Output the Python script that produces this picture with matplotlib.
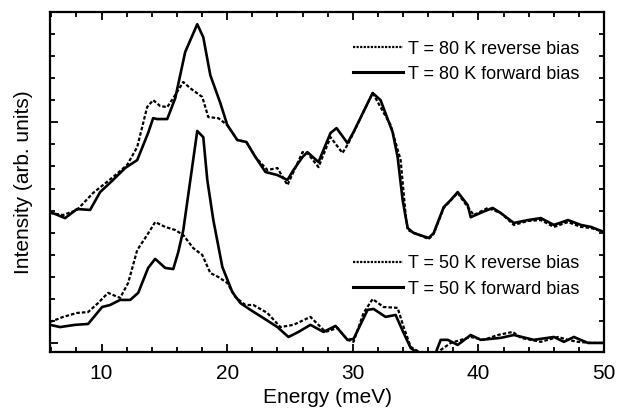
import matplotlib
matplotlib.use("Agg")
import matplotlib.pyplot as plt
from matplotlib.lines import Line2D
from matplotlib.ticker import MultipleLocator, FixedLocator

plt.rcParams["font.family"] = ["Liberation Sans", "DejaVu Sans"]

# Energy (meV) / intensity (arb. units, offset per temperature)
e_80_fwd = [5.9, 7.10, 8.05, 9.09, 9.89, 10.92, 11.88, 12.84, 13.71, 14.11, 14.43, 15.23,
            15.87, 16.66, 17.62, 18.10, 18.66, 19.46, 20.01, 20.81, 21.53, 22.25, 23.05,
            24.00, 24.80, 25.28, 26.00, 26.39, 27.27, 28.23, 28.71, 29.58, 30.06, 31.58,
            32.21, 33.17, 33.57, 33.97, 34.21, 34.37, 34.85, 36.04, 36.44, 37.24, 37.80,
            38.35, 39.15, 39.39, 40.35, 41.14, 41.78, 42.82, 43.94, 44.97, 46.01, 47.13,
            48.16, 48.96, 50.0]
i_80_fwd = [5.94, 5.66, 6.07, 6.03, 6.84, 7.39, 7.93, 8.29, 9.52, 10.19, 10.15, 10.15,
            11.10, 13.19, 14.45, 13.86, 12.14, 10.87, 9.88, 9.20, 9.11, 8.43, 7.75,
            7.61, 7.39, 7.84, 8.43, 8.65, 8.20, 9.52, 9.74, 9.06, 9.56, 11.33,
            11.01, 9.56, 8.43, 6.48, 5.71, 5.21, 4.98, 4.76, 4.98, 6.16, 6.48,
            6.84, 6.25, 5.70, 5.94, 6.12, 5.89, 5.44, 5.57, 5.66, 5.35, 5.57,
            5.35, 5.26, 5.03]

e_80_rev = [5.9, 6.94, 8.05, 9.33, 10.92, 12.04, 12.84, 13.63, 14.11, 14.67, 15.23, 15.71,
            16.51, 17.06, 18.02, 18.50, 19.30, 20.01, 20.81, 21.53, 22.25, 23.20, 24.00,
            24.80, 25.28, 26.00, 26.39, 27.27, 28.23, 29.18, 29.66, 31.58, 33.01, 33.81,
            34.21, 34.37, 36.04, 36.44, 37.24, 38.35, 39.15, 39.63, 40.75, 41.78, 42.82,
            43.94, 44.97, 46.01, 47.13, 48.16, 48.96, 50.0]
i_80_rev = [5.89, 5.80, 6.03, 6.80, 7.52, 8.07, 8.88, 10.69, 11.01, 10.74, 10.69, 11.10,
            11.83, 11.55, 11.15, 10.24, 10.19, 9.88, 9.20, 9.11, 8.43, 7.84, 7.93,
            7.16, 7.75, 8.65, 8.61, 7.97, 9.33, 8.61, 9.06, 11.33, 9.88, 8.29,
            5.80, 5.12, 4.71, 4.94, 6.12, 6.80, 6.16, 5.80, 6.12, 5.89, 5.35,
            5.53, 5.57, 5.26, 5.48, 5.26, 5.21, 5.03]

e_50_fwd = [5.9, 6.70, 7.89, 8.93, 10.05, 10.68, 11.48, 12.28, 12.92, 13.71, 14.27, 15.07,
            15.71, 16.11, 16.51, 17.62, 18.10, 18.42, 18.90, 19.62, 20.41, 21.05, 21.85,
            22.88, 24.00, 24.88, 25.68, 26.63, 27.67, 28.63, 29.58, 30.06, 31.18, 31.66,
            32.61, 33.41, 34.05, 34.61, 35.17, 35.8, 36.3, 36.60, 37.00, 37.56, 38.35,
            39.39, 40.19, 41.78, 42.82, 44.41, 46.01, 46.81, 47.60, 48.72, 50.0]
i_50_fwd = [0.82, 0.72, 0.82, 0.86, 1.63, 1.72, 1.95, 1.95, 2.27, 3.40, 3.81, 3.40,
            3.35, 4.12, 5.12, 9.61, 9.33, 7.39, 5.57, 3.44, 2.31, 1.81, 1.50,
            1.13, 0.72, 0.27, 0.50, 0.82, 0.50, 0.77, 0.14, 0.18, 1.50, 1.54,
            1.18, 1.27, 0.45, -0.23, -0.45, -0.8, -0.8, -0.45, 0.14, 0.14, -0.09,
            0.36, 0.14, 0.23, 0.36, 0.14, 0.27, 0.05, 0.27, 0.0, 0.0]

e_50_rev = [5.9, 6.94, 8.05, 8.93, 9.73, 10.52, 11.48, 12.12, 12.84, 13.63, 14.27, 15.07,
            15.87, 16.51, 17.30, 18.02, 18.66, 19.30, 20.01, 20.65, 21.45, 22.09, 23.20,
            24.24, 25.28, 26.63, 27.83, 28.79, 29.58, 30.06, 30.86, 31.58, 32.45, 33.57,
            34.05, 34.61, 35.41, 36.2, 37.00, 37.80, 39.39, 40.43, 41.54, 42.74, 43.38,
            44.97, 46.33, 47.13, 47.92, 48.96, 50.0]
i_50_rev = [0.95, 1.18, 1.36, 1.40, 1.81, 2.27, 2.04, 2.72, 4.21, 4.89, 5.48, 5.26,
            5.12, 4.89, 4.30, 3.99, 3.17, 2.99, 2.72, 2.08, 1.72, 1.72, 1.36,
            0.72, 0.82, 1.18, 0.50, 0.68, 0.14, 0.05, 1.36, 1.99, 1.63, 1.59,
            0.72, -0.18, -0.45, -0.8, -0.32, 0.0, 0.27, 0.14, 0.36, 0.50, 0.23,
            0.05, 0.27, 0.14, 0.05, 0.0, 0.0]

labels_80 = ["T = 80 K reverse bias", "T = 80 K forward bias"]
labels_50 = ["T = 50 K reverse bias", "T = 50 K forward bias"]

DASH = (0, (1.6, 0.9))
LW = 1.6

fig = plt.figure(figsize=(6.19, 4.11), dpi=100)
ax = fig.add_axes([0.0808, 0.1436, 0.895, 0.827])

ax.plot(e_80_rev, i_80_rev, color="black", lw=LW, ls=DASH)
ax.plot(e_80_fwd, i_80_fwd, color="black", lw=LW + 0.3)
ax.plot(e_50_rev, i_50_rev, color="black", lw=LW, ls=DASH)
ax.plot(e_50_fwd, i_50_fwd, color="black", lw=LW + 0.3)

ax.set_xlim(5.9, 50)
ax.set_ylim(-0.41, 15)
ax.xaxis.set_major_locator(MultipleLocator(10))
ax.xaxis.set_minor_locator(MultipleLocator(2))
ax.yaxis.set_major_locator(FixedLocator([0, 10]))
ax.yaxis.set_minor_locator(MultipleLocator(1))
ax.set_yticklabels([])
ax.tick_params(which="both", direction="in", top=True, right=True, width=1.3)
ax.tick_params(which="major", length=6, labelsize=15, pad=9)
ax.tick_params(which="minor", length=3.5)
for s in ax.spines.values():
    s.set_linewidth(1.6)

ax.set_xlabel("Energy (meV)", fontsize=15, labelpad=3)
ax.set_ylabel("Intensity (arb. units)", fontsize=15, labelpad=3)

def handles():
    return [Line2D([], [], color="black", lw=LW, ls=(0, (1.0, 0.6))),
            Line2D([], [], color="black", lw=LW + 0.6)]

leg_opts = dict(loc="upper right", frameon=False, fontsize=13, handlelength=2.8,
                handletextpad=0.25, labelspacing=0.45, borderpad=0, borderaxespad=0)
leg1 = ax.legend(handles(), labels_80, bbox_to_anchor=(0.955, 0.916), **leg_opts)
ax.add_artist(leg1)
ax.legend(handles(), labels_50, bbox_to_anchor=(0.955, 0.284), **leg_opts)

fig.savefig("out.png", dpi=100)
